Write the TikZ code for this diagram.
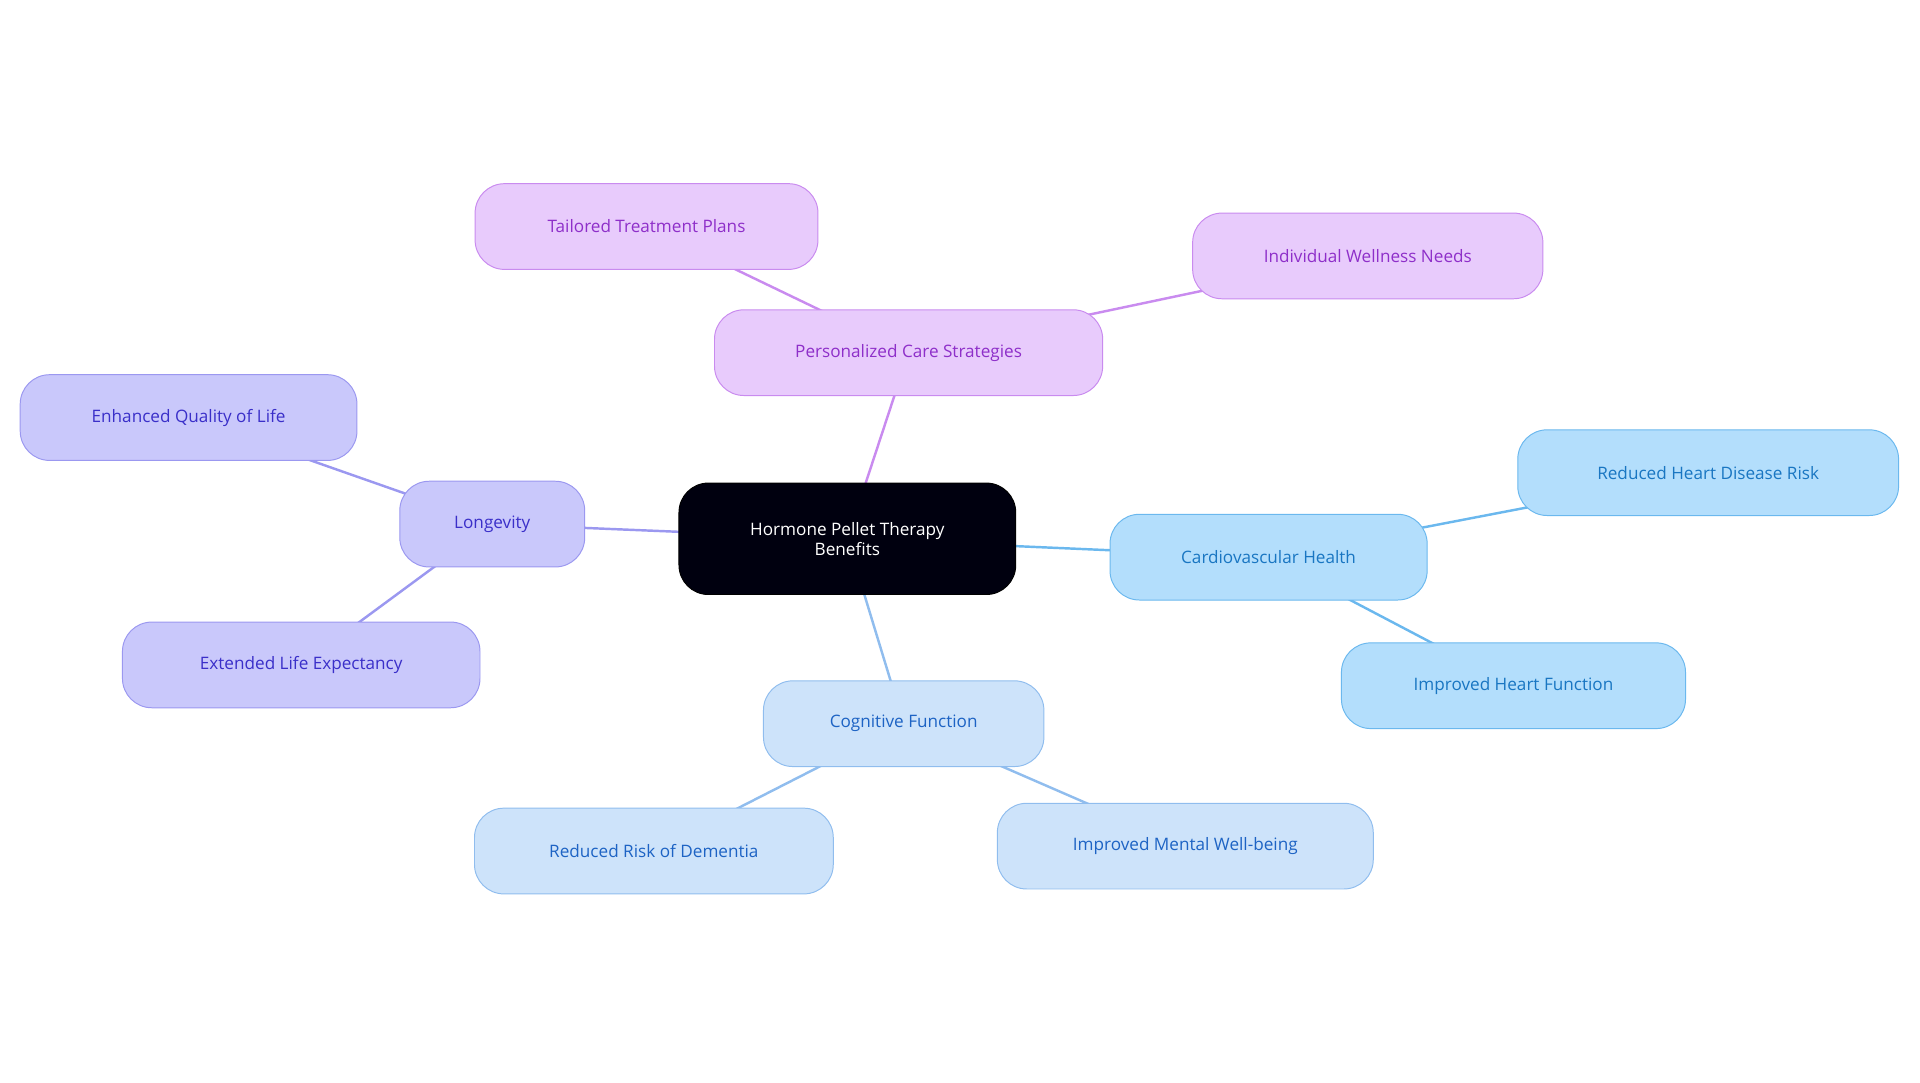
\documentclass[tikz,border=0pt]{standalone}
\usepackage{fontspec}
\setmainfont{Open Sans}
\usetikzlibrary{backgrounds}
\definecolor{pf}{HTML}{E8CBFC}\definecolor{pd}{HTML}{C98BEF}\definecolor{pt}{HTML}{8E2FC9}
\definecolor{lf}{HTML}{C9C8FB}\definecolor{ld}{HTML}{9B98F0}\definecolor{lt}{HTML}{3A2FC9}
\definecolor{cf}{HTML}{B3DEFC}\definecolor{cd}{HTML}{6BB8EE}\definecolor{ct}{HTML}{1976C2}
\definecolor{gf}{HTML}{CDE3FA}\definecolor{gd}{HTML}{90BDEE}\definecolor{gt}{HTML}{1D63C4}
\begin{document}
\begin{tikzpicture}[x=1pt,y=-1pt,
 b/.style={rounded corners=24pt,minimum height=70pt,inner sep=0pt,align=center,font=\fontsize{14}{16}\selectfont,line width=0.8pt},
 P/.style={b,fill=pf,draw=pd,text=pt},
 L/.style={b,fill=lf,draw=ld,text=lt},
 C/.style={b,fill=cf,draw=cd,text=ct},
 G/.style={b,fill=gf,draw=gd,text=gt},
 e/.style={line width=2pt}]
\useasboundingbox (0,0) rectangle (1568,884.4);
\node[b,fill=black!90!blue!60!black,draw=black,text=white,minimum width=275pt,minimum height=91pt] (h) at (692,440) {Hormone Pellet Therapy\\Benefits};
\node[P,minimum width=317pt] (p) at (742,288) {Personalized Care Strategies};
\node[P,minimum width=280pt] (p1) at (528,185) {Tailored Treatment Plans};
\node[P,minimum width=286pt] (p2) at (1117,209) {Individual Wellness Needs};
\node[L,minimum width=151pt] (l) at (402,428) {Longevity};
\node[L,minimum width=275pt] (l1) at (154,341) {Enhanced Quality of Life};
\node[L,minimum width=292pt] (l2) at (246,543) {Extended Life Expectancy};
\node[C,minimum width=259pt] (c) at (1036,455) {Cardiovascular Health};
\node[C,minimum width=311pt] (c1) at (1395,386) {Reduced Heart Disease Risk};
\node[C,minimum width=281pt] (c2) at (1236,560) {Improved Heart Function};
\node[G,minimum width=229pt] (g) at (738,591) {Cognitive Function};
\node[G,minimum width=293pt] (g1) at (534,695) {Reduced Risk of Dementia};
\node[G,minimum width=307pt] (g2) at (968,691) {Improved Mental Well-being};
\begin{scope}[on background layer]
\draw[e,pd] (h.center)--(p.center) (p.center)--(p1.center) (p.center)--(p2.center);
\draw[e,ld] (h.center)--(l.center) (l.center)--(l1.center) (l.center)--(l2.center);
\draw[e,cd] (h.center)--(c.center) (c.center)--(c1.center) (c.center)--(c2.center);
\draw[e,gd] (h.center)--(g.center) (g.center)--(g1.center) (g.center)--(g2.center);
\end{scope}
\end{tikzpicture}
\end{document}
